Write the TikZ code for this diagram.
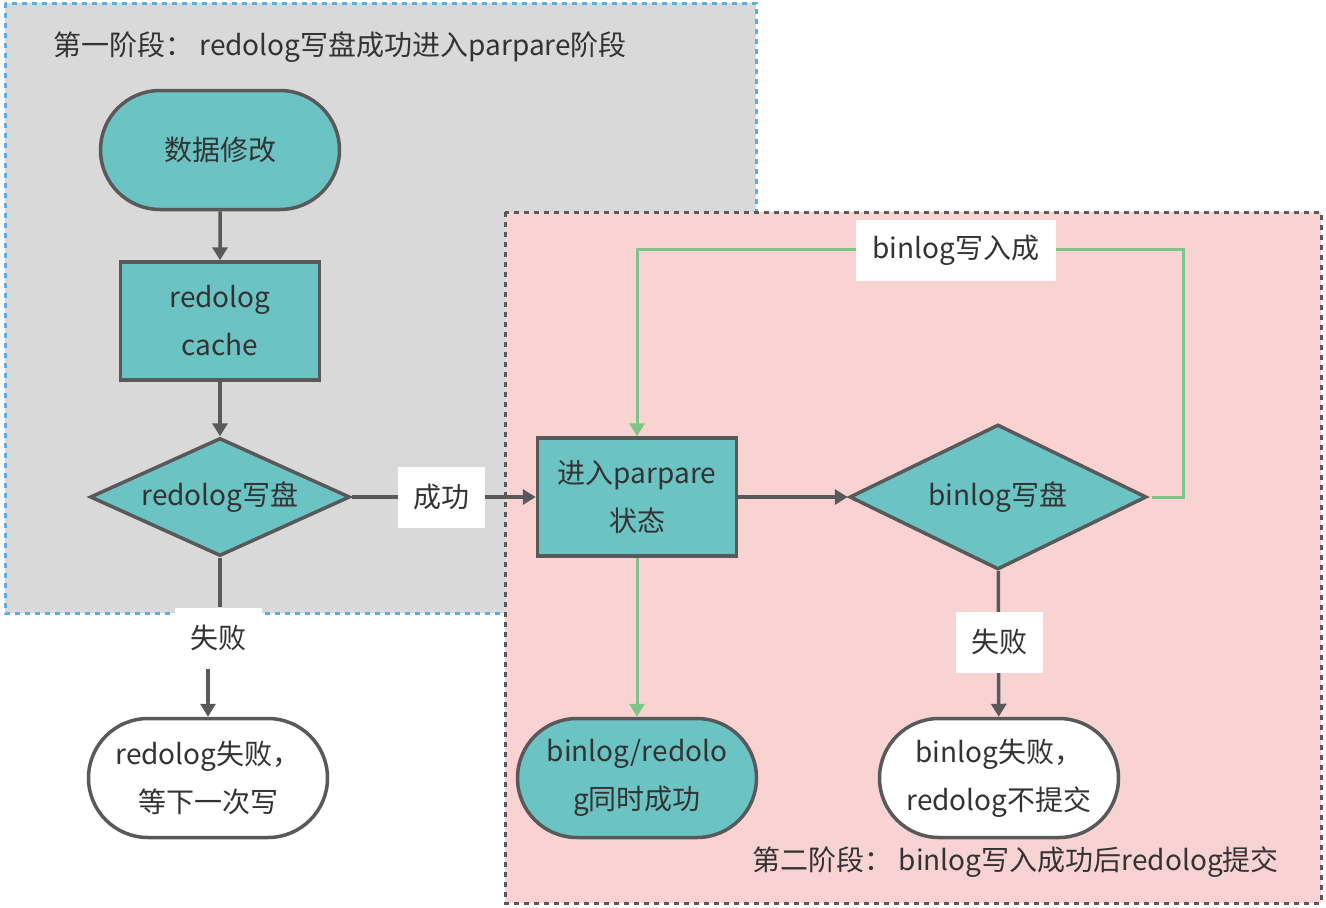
\documentclass[tikz,border=0pt]{standalone}
\usepackage{fontspec}
\setmainfont{Noto Sans CJK SC}
\usetikzlibrary{shapes.geometric,shapes.misc,arrows.meta}
\definecolor{tealf}{HTML}{6CC3C4}
\definecolor{bord}{HTML}{595959}
\definecolor{graybg}{HTML}{D9D9D9}
\definecolor{pinkbg}{HTML}{F9D3D2}
\definecolor{blued}{HTML}{5DADE2}
\definecolor{greenl}{HTML}{7DC686}
\definecolor{txt}{HTML}{333333}
\tikzset{
  base/.style={draw=bord, line width=3.5pt, align=center, text=txt, font=\fontsize{28}{48}\selectfont, inner sep=0pt},
  term/.style={base, rounded rectangle, minimum width=239pt, minimum height=119pt},
  proc/.style={base, rectangle, fill=tealf, minimum width=199pt, minimum height=118pt},
  dec/.style={base, diamond, fill=tealf},
  txtnode/.style={text=txt, align=center, inner sep=0pt, font=\fontsize{28}{48}\selectfont},
  lbl/.style={fill=white, inner sep=0pt, minimum width=87pt, minimum height=61pt, text=txt, font=\fontsize{28}{48}\selectfont},
  flow/.style={draw=bord, line width=3.5pt, -{Triangle[length=13pt,width=15pt]}},
  gflow/.style={draw=greenl, line width=3pt, -{Triangle[length=13pt,width=15pt]}},
  seg/.style={draw=bord, line width=3.5pt},
  ttl/.style={text=txt, inner sep=0pt, font=\fontsize{28}{30}\selectfont}
}
\begin{document}
\begin{tikzpicture}[x=1pt,y=-1pt]
\useasboundingbox (0,0) rectangle (1326,908);
% phase boxes
\fill[graybg] (5,3) rectangle (756,613);
\draw[blued, line width=3pt, dash pattern=on 5pt off 5pt] (5,3) rectangle (756,613);
\fill[pinkbg] (505,212) rectangle (1321,903);
\draw[bord, line width=3pt, dash pattern=on 5pt off 5pt] (505,212) rectangle (1321,903);
\node[ttl, anchor=west] (t1) at (53,47) {第一阶段： redolog写盘成功进入parpare阶段};
\node[ttl, anchor=east] (t2) at (1279,862) {第二阶段： binlog写入成功后redolog提交};
% nodes
\node[term, fill=tealf] (s) at (220,150) {数据修改};
\node[proc] (c) at (220,321) {redolog\\cache};
\node[dec, minimum width=260pt, minimum height=118pt] (d1) at (220,497) {};
\node[txtnode] (d1t) at (d1.center) {redolog写盘};
\node[proc] (p) at (637,497) {进入parpare\\状态};
\node[dec, minimum width=297pt, minimum height=145pt] (d2) at (998,497) {};
\node[txtnode] (d2t) at (d2.center) {binlog写盘};
\node[term, fill=white] (e1) at (208,778) {redolog失败，\\等下一次写};
\node[term, fill=tealf] (e2) at (637,778) {binlog/redolo\\g同时成功};
\node[term, fill=white] (e3) at (999,778) {binlog失败，\\redolog不提交};
% connectors
\draw[flow] (s) -- (c);
\draw[flow] (c) -- (d1);
\draw[flow] (d1) -- (p);
\draw[flow] (p) -- (d2);
\draw[flow] (d2) -- (e3);
\draw[gflow] (p) -- (e2);
\coordinate (gr) at (1183,249);
\coordinate (gl) at (637,249);
\draw[gflow] ([xshift=4pt]d2.east) -| (gr) -- (gl) -- (p.north);
\node[lbl] (f1) at (218,638) {失败};
\draw[seg] (d1.south) -- (d1.south |- f1.north);
\draw[flow] (f1.south -| e1.north) -- (e1.north);
\node[lbl] (l1) at (441,497) {成功};
\node[lbl] (l2) at (999,642) {失败};
\node[lbl, minimum width=200pt] (l3) at (956,250) {binlog写入成};
\end{tikzpicture}
\end{document}
